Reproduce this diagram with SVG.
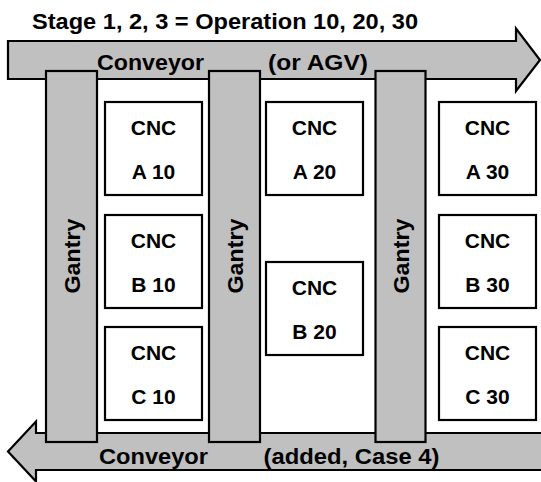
<svg xmlns="http://www.w3.org/2000/svg" width="541" height="482" viewBox="0 0 541 482">
<style>
text{font-family:"Liberation Sans",Arial,sans-serif;font-weight:bold;fill:#000}
.lbl{font-size:22px}
.cnc{font-size:21px;text-anchor:middle}
.gt{font-size:22px;text-anchor:middle}
.title{font-size:22px}
.conv{fill:#c0c0c0;stroke:#000;stroke-width:2.2;stroke-linejoin:miter}
.gantry{fill:#c0c0c0;stroke:#000;stroke-width:2.2}
.box{fill:#fff;stroke:#000;stroke-width:2.2}
</style>
<rect width="541" height="482" fill="#fff"/>
<text class="title" x="32" y="28.5" textLength="386" lengthAdjust="spacingAndGlyphs">Stage 1, 2, 3 = Operation 10, 20, 30</text>
<g id="conveyor-top">
<path class="conv" d="M8,41 H516 V28.5 L540,60 L516,91 V79 H8 Z"/>
</g>
<g id="conveyor-bottom">
<path class="conv" d="M545,433 H36 V421.5 L8,451.5 L36,481.5 V470 H545 Z"/>
</g>
<g id="gantry-1"><rect class="gantry" x="46" y="71" width="51" height="371"/><text class="gt" transform="translate(80,256) rotate(-90)" textLength="75" lengthAdjust="spacingAndGlyphs">Gantry</text></g>
<g id="gantry-2"><rect class="gantry" x="209" y="71" width="51" height="371"/><text class="gt" transform="translate(242.5,256) rotate(-90)" textLength="75" lengthAdjust="spacingAndGlyphs">Gantry</text></g>
<g id="gantry-3"><rect class="gantry" x="375.5" y="71" width="50" height="371"/><text class="gt" transform="translate(408.5,256) rotate(-90)" textLength="75" lengthAdjust="spacingAndGlyphs">Gantry</text></g>
<g id="cnc-a10"><rect class="box" x="105" y="102" width="97" height="93"/><text class="cnc" x="153.5" y="135">CNC</text><text class="cnc" x="153.5" y="179">A 10</text></g>
<g id="cnc-b10"><rect class="box" x="105" y="215" width="97" height="93"/><text class="cnc" x="153.5" y="248">CNC</text><text class="cnc" x="153.5" y="292">B 10</text></g>
<g id="cnc-c10"><rect class="box" x="105" y="327" width="97" height="93"/><text class="cnc" x="153.5" y="360">CNC</text><text class="cnc" x="153.5" y="404">C 10</text></g>
<g id="cnc-a20"><rect class="box" x="266" y="102" width="97" height="93"/><text class="cnc" x="314.5" y="135">CNC</text><text class="cnc" x="314.5" y="179">A 20</text></g>
<g id="cnc-b20"><rect class="box" x="266" y="262" width="97" height="93"/><text class="cnc" x="314.5" y="295">CNC</text><text class="cnc" x="314.5" y="339">B 20</text></g>
<g id="cnc-a30"><rect class="box" x="439" y="102" width="97" height="93"/><text class="cnc" x="487.5" y="135">CNC</text><text class="cnc" x="487.5" y="179">A 30</text></g>
<g id="cnc-b30"><rect class="box" x="439" y="215" width="97" height="93"/><text class="cnc" x="487.5" y="248">CNC</text><text class="cnc" x="487.5" y="292">B 30</text></g>
<g id="cnc-c30"><rect class="box" x="439" y="327" width="97" height="93"/><text class="cnc" x="487.5" y="360">CNC</text><text class="cnc" x="487.5" y="404">C 30</text></g>
<g id="conveyor-labels">
<text class="lbl" x="97" y="70" textLength="107" lengthAdjust="spacingAndGlyphs">Conveyor</text>
<text class="lbl" x="268" y="70" textLength="100" lengthAdjust="spacingAndGlyphs">(or AGV)</text>
<text class="lbl" x="99" y="464" textLength="109" lengthAdjust="spacingAndGlyphs">Conveyor</text>
<text class="lbl" x="263.5" y="464" textLength="176" lengthAdjust="spacingAndGlyphs">(added, Case 4)</text>
</g>
</svg>
